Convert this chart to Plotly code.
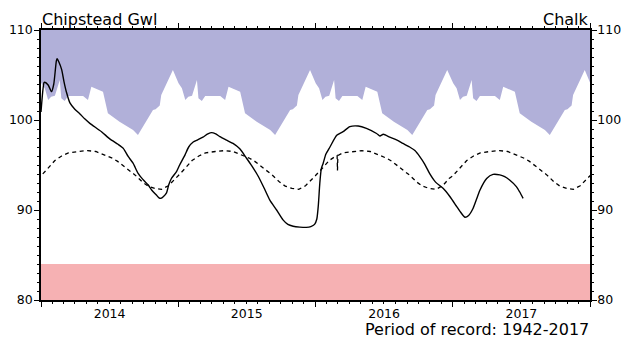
import datetime as dt
import plotly.graph_objects as go

# ---- data ----
# observed level (solid line)
obs_dates = [
    "2014-01-01", "2014-01-09", "2014-01-11", "2014-01-20", "2014-01-29", "2014-02-04",
    "2014-02-11", "2014-02-13", "2014-02-17", "2014-02-25", "2014-03-03", "2014-03-10",
    "2014-03-19", "2014-04-01", "2014-04-14", "2014-04-28", "2014-05-11", "2014-06-11",
    "2014-07-03", "2014-07-25", "2014-08-08", "2014-08-21", "2014-09-03", "2014-09-16",
    "2014-09-29", "2014-10-13", "2014-10-23", "2014-11-04", "2014-11-11", "2014-11-16",
    "2014-11-23", "2014-12-01", "2014-12-07", "2014-12-14", "2014-12-28", "2015-01-05",
    "2015-01-19", "2015-01-29", "2015-02-10", "2015-02-22", "2015-03-08", "2015-03-21",
    "2015-03-31", "2015-04-11", "2015-04-22", "2015-05-08", "2015-05-27", "2015-06-14",
    "2015-07-02", "2015-07-16", "2015-08-02", "2015-08-17", "2015-09-02", "2015-09-20",
    "2015-10-07", "2015-10-20", "2015-11-03", "2015-11-21", "2015-12-08", "2015-12-20",
    "2015-12-30", "2016-01-05", "2016-01-09", "2016-01-13", "2016-01-17", "2016-01-22",
    "2016-01-29", "2016-02-09", "2016-02-27", "2016-03-15", "2016-04-02", "2016-04-24",
    "2016-05-16", "2016-06-12", "2016-06-21", "2016-06-30", "2016-07-17", "2016-08-04",
    "2016-08-21", "2016-09-08", "2016-09-22", "2016-10-05", "2016-10-18", "2016-10-31",
    "2016-11-16", "2016-12-06", "2016-12-24", "2017-01-11", "2017-01-20", "2017-02-02",
    "2017-02-12", "2017-02-24", "2017-03-06", "2017-03-14", "2017-04-01", "2017-04-18",
    "2017-05-06", "2017-05-19", "2017-06-01", "2017-06-19", "2017-06-28", "2017-07-07",
]
obs_values = [
    100.9, 104.15, 104.2, 103.89, 103.15, 104.0,
    106.6, 106.8, 106.5, 105.6, 104.3, 103.05,
    101.9, 101.2, 100.7, 100.1, 99.63, 98.7,
    97.9, 97.3, 96.85, 95.95, 95.2, 94.1,
    93.4, 92.8, 92.2, 91.67, 91.35, 91.3,
    91.5, 91.9, 92.8, 93.5, 94.3, 95.0,
    96.1, 97.0, 97.55, 97.8, 98.1, 98.45,
    98.6, 98.45, 98.15, 97.8, 97.4, 96.8,
    95.75, 94.9, 93.75, 92.5, 91.1, 90.0,
    88.9, 88.4, 88.2, 88.1, 88.07, 88.15,
    88.4, 89.0, 90.5, 93.0, 94.6, 95.2,
    96.2, 97.0, 98.3, 98.7, 99.26, 99.33,
    99.07, 98.5, 98.22, 98.41, 98.1, 97.78,
    97.4, 97.0, 96.6, 95.93, 95.1, 94.07,
    93.1, 92.41, 91.5, 90.4, 89.85, 89.2,
    89.4, 90.2, 91.3, 92.2, 93.5, 93.96,
    93.9, 93.7, 93.33, 92.6, 92.0, 91.3,
]

# long-term average by day of year (dashed line)
avg_doy = [0, 18, 37, 55, 73, 99, 124, 146, 168, 190, 204, 226, 250, 270, 285, 303, 321, 339, 356]
avg_values = [93.8, 94.6, 95.5, 96.0, 96.35, 96.5, 96.6, 96.5, 96.15, 95.75, 95.4, 94.7,
              93.9, 93.1, 92.65, 92.4, 92.3, 92.7, 93.5]
# leap-day glitch in the average
leap_dates = ["2016-02-28", "2016-02-29", "2016-03-01"]
leap_values = [96.05, 94.4, 96.05]

# historical maximum by day of year (lower edge of the purple area)
max_doy = [1, 10, 19, 27, 37, 50, 54, 63, 72, 112, 125, 134, 165, 178, 209, 245, 258,
           298, 305, 311, 316, 320, 351]
max_values = [104.08, 103.52, 102.22, 102.59, 102.70, 104.44, 102.41, 102.11, 102.67,
              102.67, 102.22, 103.70, 103.14, 100.74, 99.81, 98.89, 98.33,
              101.11, 101.2, 101.48, 101.6, 102.78, 105.56]

years = [2013, 2014, 2015, 2016, 2017, 2018]
low_band = [80, 84]
y_range = [80, 110]
x_range = ["2014-01-01", "2018-01-01"]

# ---- build tiled seasonal series ----
def tile(doys, vals):
    xs, ys = [], []
    for yr in years:
        base = dt.date(yr, 1, 1)
        for d, v in zip(doys, vals):
            xs.append(base + dt.timedelta(days=d))
            ys.append(v)
    return xs, ys

max_x, max_y = tile(max_doy, max_values)
avg_x, avg_y = tile(avg_doy, avg_values)
pairs = list(zip(avg_x, avg_y)) + [(dt.date.fromisoformat(d), v) for d, v in zip(leap_dates, leap_values)]
pairs.sort(key=lambda p: p[0])
avg_x = [p[0] for p in pairs]
avg_y = [p[1] for p in pairs]

purple = "#b1b0d9"
pink = "#f6b1b3"
font = "DejaVu Sans"

fig = go.Figure()
# purple area: between maximum curve and top of axis
fig.add_trace(go.Scatter(x=max_x, y=max_y, mode="lines", line=dict(width=0, color=purple),
                         showlegend=False, hoverinfo="skip"))
fig.add_trace(go.Scatter(x=max_x, y=[y_range[1]] * len(max_x), mode="lines",
                         line=dict(width=0, color=purple), fill="tonexty", fillcolor=purple,
                         showlegend=False, hoverinfo="skip"))
# pink low band
fig.add_trace(go.Scatter(x=x_range, y=[low_band[0]] * 2, mode="lines",
                         line=dict(width=0, color=pink), showlegend=False, hoverinfo="skip"))
fig.add_trace(go.Scatter(x=x_range, y=[low_band[1]] * 2, mode="lines",
                         line=dict(width=0, color=pink), fill="tonexty", fillcolor=pink,
                         showlegend=False, hoverinfo="skip"))
# average
fig.add_trace(go.Scatter(x=avg_x, y=avg_y, mode="lines",
                         line=dict(color="black", width=1.3, dash="4px,3.5px"),
                         showlegend=False))
# observed
fig.add_trace(go.Scatter(x=obs_dates, y=obs_values, mode="lines",
                         line=dict(color="black", width=1.4, shape="spline", smoothing=0.6),
                         showlegend=False))
# dummy for right axis
fig.add_trace(go.Scatter(x=[None], y=[None], yaxis="y2", showlegend=False))

tickfont = dict(family=font, size=12.5, color="black")
fig.update_layout(
    width=621, height=338,
    margin=dict(l=41, r=31, t=30, b=38, autoexpand=False),
    paper_bgcolor="white", plot_bgcolor="white",
    font=dict(family=font, color="black"),
    xaxis=dict(type="date", range=x_range, showgrid=False, zeroline=False, automargin=False,
               showline=True, linecolor="black", linewidth=1.5, mirror="ticks",
               ticks="outside", ticklen=5, tickwidth=1.2, tickcolor="black",
               dtick="M12", tick0="2014-01-01", tickformat="%Y", ticklabelmode="period",
               tickfont=tickfont, ticklabelstandoff=-4,
               minor=dict(dtick="M1", ticks="outside", ticklen=2.5, tickwidth=1, tickcolor="black")),
    yaxis=dict(range=y_range, showgrid=False, zeroline=False, automargin=False,
               showline=True, linecolor="black", linewidth=1.5,
               ticks="outside", ticklen=5, tickwidth=1.2, tickcolor="black",
               dtick=10, tickfont=tickfont, ticklabelstandoff=-1,
               minor=dict(dtick=1, ticks="outside", ticklen=2.5, tickwidth=1, tickcolor="black")),
    yaxis2=dict(range=y_range, overlaying="y", side="right", showgrid=False, zeroline=False,
                automargin=False,
                showline=True, linecolor="black", linewidth=1.5,
                ticks="outside", ticklen=5, tickwidth=1.2, tickcolor="black",
                dtick=10, tickfont=tickfont, ticklabelstandoff=-2,
                minor=dict(dtick=1, ticks="outside", ticklen=2.5, tickwidth=1, tickcolor="black")),
    annotations=[
        dict(text="Chipstead Gwl", xref="paper", yref="paper", x=0, y=1, xanchor="left",
             yanchor="bottom", showarrow=False, font=dict(family=font, size=16, color="black"),
             borderpad=0),
        dict(text="Chalk", xref="paper", yref="paper", x=1, y=1, xanchor="right",
             yanchor="bottom", showarrow=False, font=dict(family=font, size=16, color="black"),
             borderpad=0),
        dict(text="Period of record: 1942-2017", xref="paper", yref="paper", x=1, y=-0.108,
             xanchor="right", yanchor="middle", showarrow=False,
             font=dict(family=font, size=16, color="black"), borderpad=0),
    ],
)

fig.write_html("out.html")
